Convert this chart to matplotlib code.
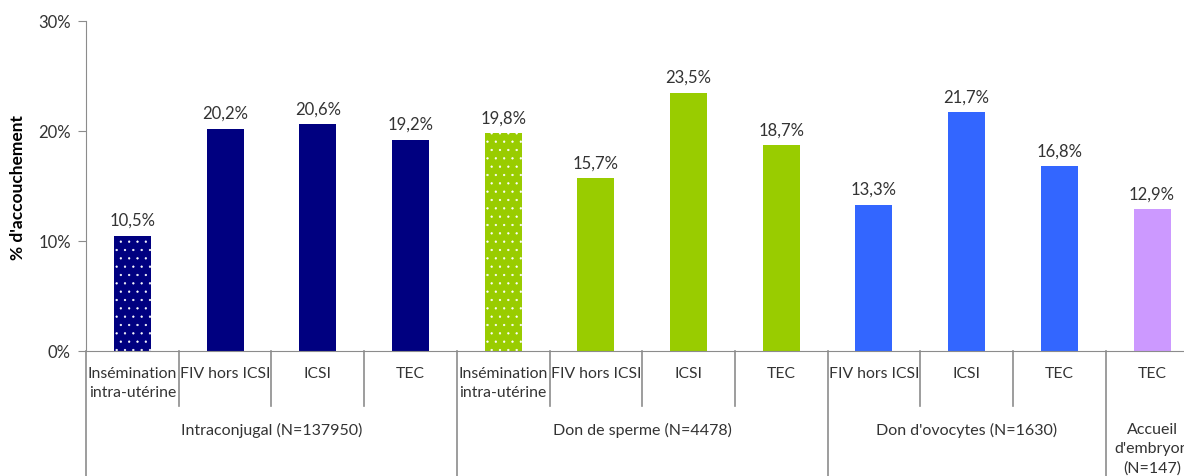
import numpy as np
import matplotlib
matplotlib.use("Agg")
import matplotlib.pyplot as plt
import matplotlib.transforms as mtransforms

plt.rcParams['font.family'] = ['Lato', 'DejaVu Sans']
plt.rcParams['hatch.linewidth'] = 0.4

# data
categories = ["Insémination\nintra-utérine", "FIV hors ICSI", "ICSI", "TEC",
              "Insémination\nintra-utérine", "FIV hors ICSI", "ICSI", "TEC",
              "FIV hors ICSI", "ICSI", "TEC",
              "TEC"]
values = [10.5, 20.2, 20.6, 19.2,
          19.8, 15.7, 23.5, 18.7,
          13.3, 21.7, 16.8,
          12.9]
groups = ["Intraconjugal (N=137950)", "Don de sperme (N=4478)",
          "Don d'ovocytes (N=1630)", "Accueil\nd'embryon\n(N=147)"]
group_sizes = [4, 4, 3, 1]
group_colors = ["#000080", "#99CC00", "#3366FF", "#CC99FF"]
dotted = [True, False, False, False, True, False, False, False,
          False, False, False, False]

txt = "#333333"
axc = "#8c8c8c"

fig = plt.figure(figsize=(11.84, 4.77), dpi=100)
W, H = 1184, 477
cw = 92.7
ax = fig.add_axes([86 / W, (H - 352) / H, 12 * cw / W, 330 / H])

colors = []
for c, n in zip(group_colors, group_sizes):
    colors += [c] * n

x = np.arange(len(values))
ax.bar(x, values, width=0.4, color=colors, linewidth=0, zorder=2)
for i, v in enumerate(values):
    if dotted[i]:
        ax.bar(x[i], v, width=0.4, facecolor="none", edgecolor="white",
               hatch="..", linewidth=0, zorder=3)
    ax.text(x[i], v + 0.7, f"{v:.1f}%".replace(".", ","), ha="center",
            va="bottom", fontsize=12, color=txt)

ax.set_xlim(-0.5, len(values) - 0.5)
ax.set_ylim(0, 30)
ax.set_yticks([0, 10, 20, 30])
ax.set_yticklabels(["0%", "10%", "20%", "30%"])
ax.tick_params(axis="y", length=6, color=axc, labelsize=12, labelcolor=txt, pad=5)
ax.set_xticks([])
for s in ["top", "right"]:
    ax.spines[s].set_visible(False)
ax.spines["left"].set_color(axc)
ax.spines["bottom"].set_color(axc)
ax.set_ylabel("% d'accouchement", fontsize=12.5, fontweight="bold", color="black")
ax.yaxis.set_label_coords(-60 / (12 * cw), 0.5)

trans = mtransforms.blended_transform_factory(ax.transData, ax.transAxes)
px = 1 / 330.0  # one pixel in axes height units

# category labels
for i, lab in enumerate(categories):
    ax.text(x[i], -15 * px, lab, transform=trans, ha="center", va="top",
            fontsize=11.3, color=txt, linespacing=1.45)

# boundaries
group_edges = np.cumsum([0] + group_sizes) - 0.5
for b in np.arange(-0.5, len(values) + 0.5, 1.0):
    if b in group_edges:
        y1 = -125 * px
    else:
        y1 = -55 * px
    ax.plot([b, b], [0, y1], transform=trans, color=axc, lw=1.2, clip_on=False)

# group labels
for g, lab in enumerate(groups):
    mid = (group_edges[g] + group_edges[g + 1]) / 2
    ax.text(mid, -71 * px, lab, transform=trans, ha="center", va="top",
            fontsize=11.5, color=txt, linespacing=1.45)

fig.savefig("out.png", dpi=100)
